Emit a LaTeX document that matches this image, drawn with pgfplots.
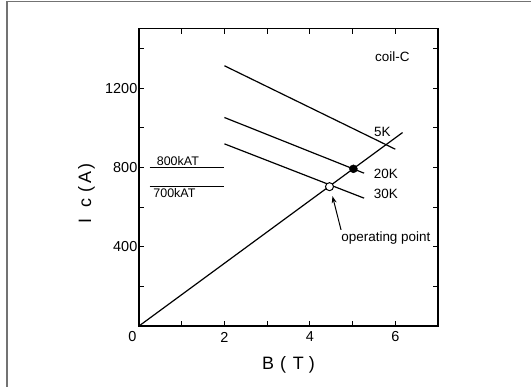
\documentclass[border=0pt]{standalone}
\usepackage{fontspec}
\setmainfont{Liberation Sans}
\usepackage{pgfplots}
\pgfplotsset{compat=1.18}
\usetikzlibrary{arrows.meta}
\begin{document}
\begin{tikzpicture}
\useasboundingbox (-139bp,-61bp) rectangle (392bp,326bp);
\draw[line width=1.3bp, color=black!55] (-132bp,-61bp) -- (-132bp,324.3bp) -- (392bp,324.3bp);
\begin{axis}[
  at={(0,0)}, anchor=origin,
  width=299bp, height=297.3bp, scale only axis,
  xmin=0, xmax=7, ymin=0, ymax=1500,
  xtick={0,1,2,3,4,5,6,7}, xticklabels={,,2,,4,,6,},
  ytick={0,200,400,600,800,1000,1200,1400}, yticklabels={,,400,,800,,1200,},
  tick align=inside, major tick length=5.5bp,
  tick style={line width=1bp, black},
  axis line style={line width=1.2bp},
  /pgf/number format/assume math mode=true,
  tick label style={font=\fontsize{14.5}{16}\selectfont},
  xticklabel style={anchor=center, yshift=-11bp},
  yticklabel style={anchor=east, inner sep=0pt, xshift=-1.5bp},
  xlabel={B\hspace{6bp}(\hspace{7bp}T\hspace{5bp})},
  ylabel={I\hspace{11bp}c\hspace{6bp}(\hspace{3bp}A\hspace{2bp})},
  every axis x label/.style={at={(axis description cs:0.5,0)}, anchor=center, yshift=-39bp, font=\fontsize{18}{20}\selectfont},
  every axis y label/.style={at={(axis description cs:0,0.447)}, anchor=center, xshift=-52.6bp, rotate=90, font=\fontsize{18}{20}\selectfont},
  clip=false,
]
% load line
\addplot[line width=1.2bp, black] coordinates {(0,0) (6.17,976)};
% 5K
\addplot[line width=1.2bp, black] coordinates {(2,1313) (6,892)};
% 20K
\addplot[line width=1.2bp, black] coordinates {(2,1052) (5.27,771)};
% 30K
\addplot[line width=1.2bp, black] coordinates {(2,919) (5.27,645)};
% 800kAT
\addplot[line width=1.2bp, black] coordinates {(0.25,800) (2,800)};
% 700kAT
\addplot[line width=1.2bp, black] coordinates {(0.25,705) (2,705)};
% points
\addplot[only marks, mark=*, mark size=4bp, black] coordinates {(5.02,793)};
\addplot[only marks, mark=*, mark size=4bp, mark options={fill=white, draw=black, line width=1bp}] coordinates {(4.46,703)};
% annotations
\node[font=\fontsize{13.5}{15}\selectfont] at (axis cs:5.93,1360) {coil-C};
\node[font=\fontsize{13.5}{15}\selectfont] at (axis cs:5.7,981) {5K};
\node[font=\fontsize{13.5}{15}\selectfont] at (axis cs:5.78,768) {20K};
\node[font=\fontsize{13.5}{15}\selectfont] at (axis cs:5.78,665) {30K};
\node[font=\fontsize{13.5}{15}\selectfont] at (axis cs:5.78,443) {operating point};
\node[font=\fontsize{12.5}{14}\selectfont] at (axis cs:0.91,833) {800kAT};
\node[font=\fontsize{12.5}{14}\selectfont] at (axis cs:0.83,670) {700kAT};
\draw[-{Stealth[length=7bp,width=5bp]}, line width=1bp] (axis cs:4.73,485) -- (axis cs:4.53,655);
\node[font=\fontsize{14.5}{16}\selectfont] at (axis cs:0,0) [xshift=-6.6bp, yshift=-10.7bp] {0};
\end{axis}
\end{tikzpicture}
\end{document}
